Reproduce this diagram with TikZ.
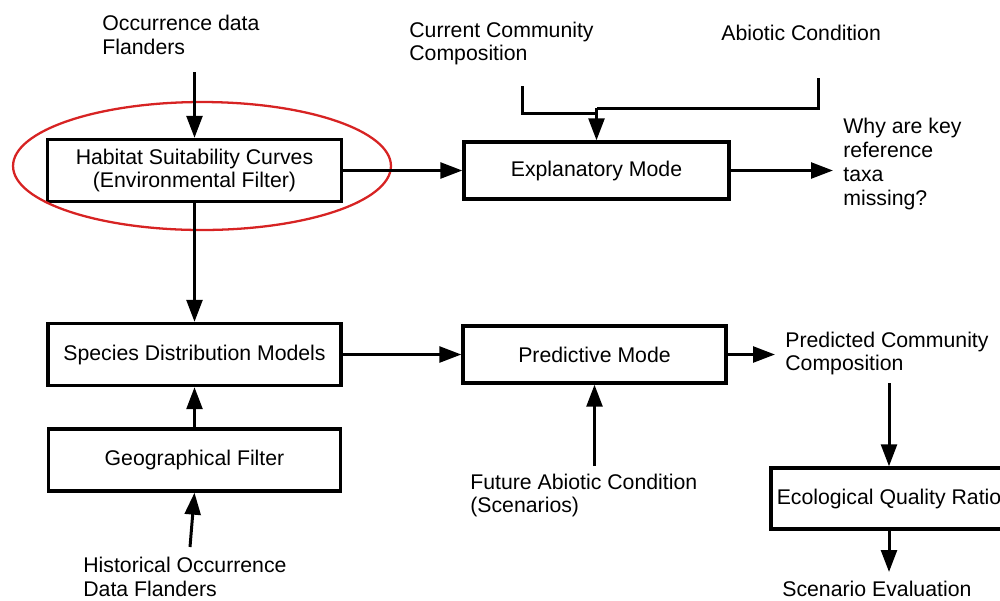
\documentclass[tikz,border=0pt]{standalone}
\usepackage{fontspec}
\setmainfont{Liberation Sans}
\usetikzlibrary{arrows.meta}
\definecolor{hlred}{RGB}{215,35,35}
\begin{document}
\begin{tikzpicture}[x=0.02cm,y=-0.02cm,
  font=\fontsize{12.1pt}{13.6pt}\selectfont,
  box/.style={draw,line width=1.9pt,rectangle,align=center,inner sep=0pt},
  lbl/.style={anchor=west,align=left,inner sep=0pt},
  arr/.style={line width=1.7pt,-{Triangle[length=12.5pt,width=9pt]}},
  ln/.style={line width=1.7pt},
  hl/.style={draw=hlred,line width=1.3pt}]
\useasboundingbox (0,0) rectangle (1000,600);
\clip (0,0) rectangle (1000,600);
% boxes
\node[box,minimum width=5.88cm,minimum height=1.24cm] (hsc) at (194.5,170.5) {Habitat Suitability Curves\\(Environmental Filter)};
\node[box,minimum width=5.3cm,minimum height=1.14cm] (expl) at (596.5,170.5) {Explanatory Mode};
\node[box,minimum width=5.86cm,minimum height=1.24cm] (sdm) at (194.5,354.5) {Species Distribution Models};
\node[box,minimum width=5.84cm,minimum height=1.24cm] (gf) at (194.5,460) {Geographical Filter};
\node[box,minimum width=5.26cm,minimum height=1.14cm] (pred) at (594.5,354.5) {Predictive Mode};
\node[box,minimum width=4.72cm,minimum height=1.22cm] (eqr) at (889,498.5) {Ecological Quality Ratio};
% labels
\node[lbl] (occ) at (102,34.5) {Occurrence data\\Flanders};
\node[lbl] (ccc) at (409,43.5) {Current Community\\Composition};
\node[lbl] (abio) at (721,33) {Abiotic Condition};
\node[lbl] (why) at (843,164) {Why are key\\reference\\taxa\\missing?};
\node[lbl] (pcc) at (785,353.5) {Predicted Community\\Composition};
\node[lbl] (fac) at (470,495.5) {Future Abiotic Condition\\(Scenarios)};
\node[lbl] (hist) at (83,576.5) {Historical Occurrence\\Data Flanders};
\node[lbl] (se) at (782,589) {Scenario Evaluation};
% free ends
\coordinate (cocc) at (194.5,72);
\coordinate (cccd) at (522,86);
\coordinate (cccb) at (522,113);
\coordinate (cabd) at (818,78);
\coordinate (cabb) at (818,108);
\coordinate (cwhy) at (833,170.5);
\coordinate (chist) at (190,547);
\coordinate (cfac) at (594.5,466);
\coordinate (cpcc) at (775,354.5);
\coordinate (cpcc2) at (889,383);
\coordinate (cse) at (889,572);
% highlight
\draw[hl] (202,166) ellipse [x radius=3.78cm, y radius=1.28cm];
% connectors
\draw[arr] (cocc) -- (hsc.north);
\draw[arr] (hsc.east) -- (expl.west);
\draw[ln] (cccd) -- (cccb) -- (cccb -| expl.north);
\draw[ln] (cabd) -- (cabb) -- (cabb -| expl.north);
\draw[arr] (cabb -| expl.north) -- (expl.north);
\draw[arr] (expl.east) -- (cwhy);
\draw[arr] (hsc.south) -- (sdm.north);
\draw[arr] (sdm.east) -- (pred.west);
\draw[arr] (gf.north) -- (sdm.south);
\draw[arr] (chist) -- (gf.south);
\draw[arr] (cfac) -- (pred.south);
\draw[arr] (pred.east) -- (cpcc);
\draw[arr] (cpcc2) -- (eqr.north);
\draw[arr] (eqr.south) -- (cse);
\end{tikzpicture}
\end{document}
